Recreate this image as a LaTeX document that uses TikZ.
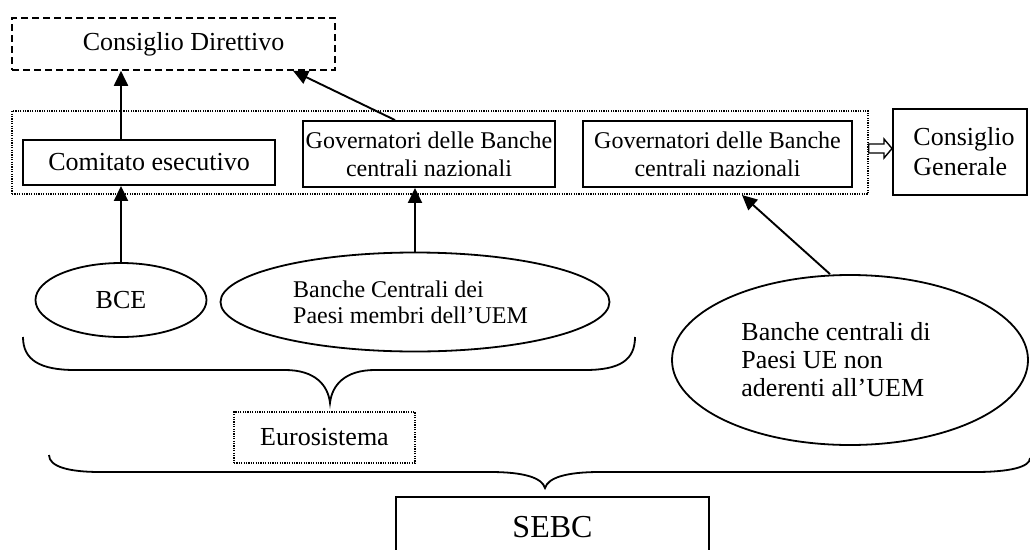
\documentclass[tikz,border=0pt]{standalone}
\usepackage{fontspec}
\setmainfont{Liberation Serif}
\usetikzlibrary{arrows.meta,shapes.geometric,calc}
\begin{document}
\begin{tikzpicture}[x=1pt,y=-1pt,
  box/.style={draw,line width=1.9pt,rectangle,inner sep=0pt},
  ell/.style={draw,line width=1.8pt,ellipse,inner sep=0pt},
  dotbox/.style={draw,line width=1.4pt,dash pattern=on 1.2pt off 1.2pt,rectangle,inner sep=0pt},
  arr/.style={line width=1.9pt,-{Triangle[length=15pt,width=14pt]}},
  brace/.style={line width=1.8pt},
  big/.style={font=\fontsize{26}{30}\selectfont},
  mid/.style={font=\fontsize{24}{28}\selectfont},
]
\useasboundingbox (0,0) rectangle (1030,549);
\clip (0,0) rectangle (1030,549);

% top
\node[box,big,line width=1.6pt,dash pattern=on 7pt off 4pt,minimum width=323pt,minimum height=52pt] (cd) at (173.5,44) {\hspace*{20pt}Consiglio Direttivo};
\node[dotbox,minimum width=856pt,minimum height=83pt] (cont) at (440,152.5) {};
\node[box,big,minimum width=252pt,minimum height=45pt] (com) at (149,162.5) {Comitato esecutivo};
\node[box,mid,align=center,minimum width=252pt,minimum height=66pt] (gov1) at (429,154) {Governatori delle Banche\\centrali nazionali};
\node[box,mid,align=center,minimum width=269pt,minimum height=66pt] (gov2) at (717.5,154) {Governatori delle Banche\\centrali nazionali};
\node[box,big,align=left,minimum width=134pt,minimum height=86pt] (cg) at (960,152) {\hspace*{8pt}Consiglio\\\hspace*{8pt}Generale};

% ellipses
\node[ell,big,minimum width=171pt,minimum height=74pt] (bce) at (121,300) {BCE};
\node[ell,font=\fontsize{24}{26}\selectfont,align=left,minimum width=389pt,minimum height=99pt] (bcn) at (415,302) {Banche Centrali dei\\Paesi membri dell’UEM\hspace*{9pt}};
\node[ell,font=\fontsize{26}{28}\selectfont,align=left,minimum width=356pt,minimum height=170pt] (bnu) at (850,360) {Banche centrali di\hspace*{28pt}\\Paesi UE non\\aderenti all’UEM};

% bottom
\node[dotbox,big,minimum width=181pt,minimum height=51pt] (euro) at (324.5,437.5) {Eurosistema};
\node[box,font=\fontsize{32}{36}\selectfont,minimum width=313pt,minimum height=60pt] (sebc) at (552.5,527) {SEBC};

% arrows
\coordinate (t3) at (742,195);
\draw[arr] (bce.north |- com.north) -- (bce.north |- cd.south);
\draw[arr] ([xshift=-34pt]gov1.north) -- ([xshift=119.5pt]cd.south);
\draw[arr] (bce.north) -- (bce.north |- com.south);
\draw[arr] (bcn.north) -- (bcn.north |- gov1.south);
\draw[arr] ([xshift=-20pt]bnu.north) -- (t3);

% hollow arrow
\draw[line width=1.4pt,fill=white] (cont.east |- 0,144) -- (884,144) -- (884,139) -- (cg.west |- 0,148.5) -- (884,158) -- (884,153) -- (cont.east |- 0,153) -- cycle;

% braces
\draw[brace] (23,337) .. controls (23,360) and (40,370) .. (75,370) -- (285,370)
  .. controls (315,370) and (328,385) .. (330,403)
  .. controls (332,385) and (345,370) .. (375,370) -- (585,370)
  .. controls (620,370) and (635,360) .. (635,337);
\draw[brace] (49,455) .. controls (49,467) and (70,472) .. (100,472) -- (490,472)
  .. controls (525,472) and (542,478) .. (545,488)
  .. controls (548,478) and (565,472) .. (600,472) -- (975,472)
  .. controls (1010,472) and (1030,467) .. (1030,458);
\end{tikzpicture}
\end{document}
